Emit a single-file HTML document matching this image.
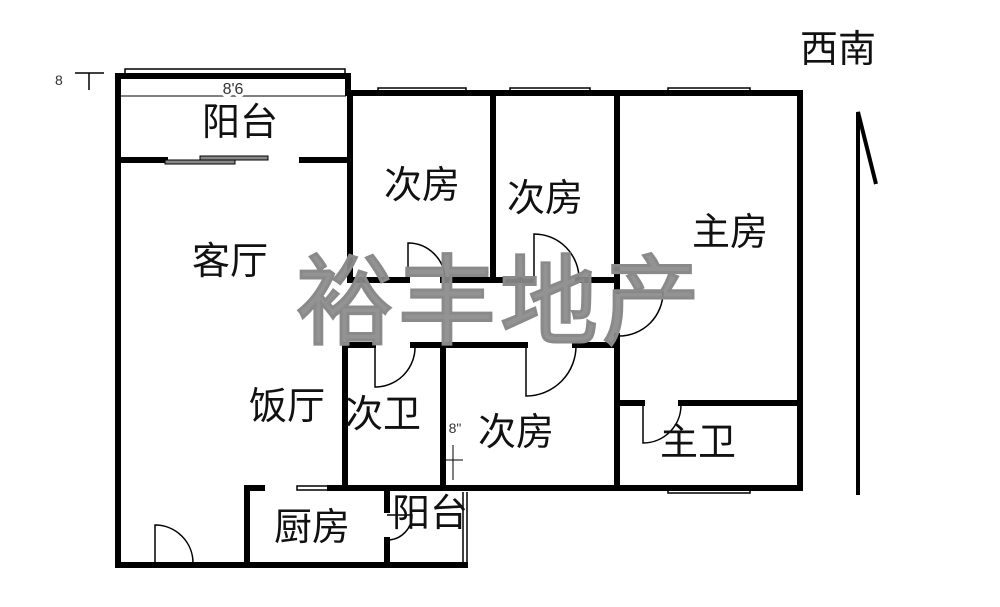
<!DOCTYPE html>
<html><head><meta charset="utf-8"><style>
body{margin:0;background:#fff;}
svg{display:block}
text{font-family:"Liberation Sans","Noto Sans CJK SC",sans-serif;}
.t{font-size:38px;fill:#111;text-anchor:middle;dominant-baseline:central}
</style></head><body>
<svg width="1000" height="607" viewBox="0 0 1000 607">
<rect width="1000" height="607" fill="#fff"/>
<g stroke="#000" stroke-width="6" fill="none" stroke-linecap="square">
<path d="M118 76 L348 76 L348 93 L800 93 L800 488 L617 488"/>
<path d="M118 76 L118 565 L465 565"/>
<path d="M118 160 L165 160 M302 160 L348 160"/>
<path d="M350 93 L350 280 L407 280 M443 280 L533 280 M578 280 L617 280"/>
<path d="M493 93 L493 280"/>
<path d="M617 93 L617 291 M617 336 L617 488"/>
<path d="M345 345 L373 345 M413 345 L525 345 M575 345 L617 345"/>
<path d="M345 345 L345 488 L443 488 L617 488"/>
<path d="M443 345 L443 488"/>
<path d="M617 403 L642 403 M681 403 L800 403"/>
<path d="M247 565 L247 488 L262 488 M330 488 L443 488"/>
<path d="M387 488 L387 510 M387 540 L387 565"/>
</g>
<g stroke="#000" stroke-width="1.5" fill="none">
<rect x="125" y="69" width="220" height="5"/>
<rect x="378" y="88" width="88" height="5"/>
<rect x="510" y="88" width="80" height="5"/>
<rect x="668" y="88" width="82" height="5"/>
<rect x="668" y="488" width="82" height="5"/>
<rect x="297" y="486" width="33" height="4"/>
<path d="M463 492 L463 562 M467 492 L467 562"/>
<path d="M120 96 L346 96" stroke-width="1"/>
<path d="M408 280 L408 243 A37 37 0 0 1 445 280"/>
<path d="M534 280 L534 234 A45 45 0 0 1 579 280"/>
<path d="M617 292 L663 292 A44 44 0 0 1 619 336"/>
<path d="M375 345 L375 387 A40 40 0 0 0 415 345"/>
<path d="M526 345 L526 396 A50 50 0 0 0 576 345"/>
<path d="M643 403 L643 443 A38 38 0 0 0 681 405"/>
<path d="M155 565 L155 525 A38 38 0 0 1 193 563"/>
<path d="M387 515 L412 515 A25 25 0 0 1 389 540"/>
<path d="M75 73 L104 73 M89 73 L89 90"/>
<path d="M453 445 L453 480 M445 460 L463 460" stroke-width="1"/>
</g>
<rect x="165" y="160" width="70" height="4" fill="#888" stroke="#000" stroke-width="1"/>
<rect x="200" y="156" width="68" height="4" fill="#888" stroke="#000" stroke-width="1"/>
<text x="233" y="94" font-size="16" text-anchor="middle" fill="#333" style="paint-order:stroke" stroke="#fff" stroke-width="6">8'6</text>
<text x="55" y="85" font-size="14" fill="#333">8</text>
<text x="455" y="433" font-size="14" text-anchor="middle" fill="#333">8"</text>
<path d="M858 495 L858 112 L876 184" stroke="#000" stroke-width="4" fill="none"/>
<text x="838" y="50" class="t">西南</text>
<text x="500" y="302" text-anchor="middle" dominant-baseline="central" font-size="98" fill="#8a8a8a" stroke="#8a8a8a" stroke-width="3" fill-opacity="0.92" letter-spacing="4">裕丰地产</text>
<text x="240" y="123" class="t">阳台</text>
<text x="230" y="262" class="t">客厅</text>
<text x="422" y="186" class="t">次房</text>
<text x="545" y="199" class="t">次房</text>
<text x="730" y="233" class="t">主房</text>
<text x="287" y="407" class="t">饭厅</text>
<text x="383" y="415" class="t">次卫</text>
<text x="516" y="433" class="t">次房</text>
<text x="698" y="443" class="t">主卫</text>
<text x="312" y="528" class="t">厨房</text>
<text x="430" y="514" class="t">阳台</text>
</svg>
</body></html>
